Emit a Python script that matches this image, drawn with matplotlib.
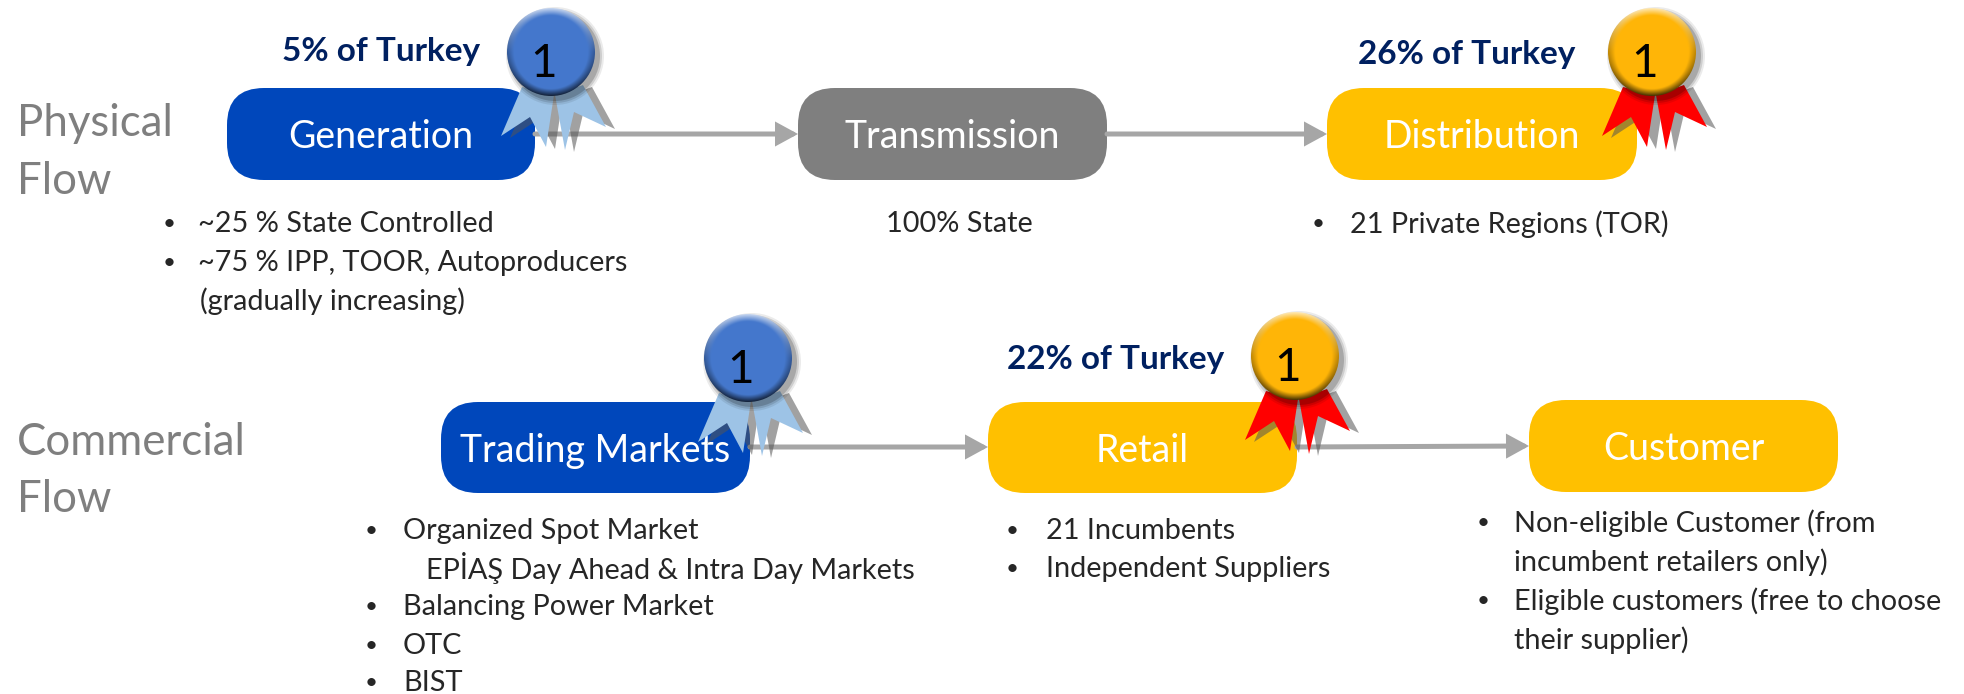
import numpy as np
import matplotlib
matplotlib.use("Agg")
import matplotlib.pyplot as plt
from matplotlib.patches import FancyBboxPatch, FancyArrowPatch, Polygon, Circle

plt.rcParams['font.family'] = ['Lato', 'DejaVu Sans']

# ---- content -------------------------------------------------------------
flow_titles = [["Physical", "Flow"], ["Commercial", "Flow"]]
box_labels = ["Generation", "Transmission", "Distribution", "Trading Markets", "Retail", "Customer"]
box_kinds = ["blue", "grey", "gold", "blue", "gold", "gold"]
share_labels = ["5% of Turkey", "26% of Turkey", "22% of Turkey"]
medal_text = "1"
generation_notes = ["~25 % State Controlled", "~75 % IPP, TOOR, Autoproducers", "(gradually increasing)"]
transmission_notes = ["100% State"]
distribution_notes = ["21 Private Regions (TOR)"]
trading_notes = ["Organized Spot Market", "EPİAŞ Day Ahead & Intra Day Markets",
                 "Balancing Power Market", "OTC", "BIST"]
retail_notes = ["21 Incumbents", "Independent Suppliers"]
customer_notes = ["Non-eligible Customer (from", "incumbent retailers only)",
                  "Eligible customers (free to choose", "their supplier)"]

# ---- layout (pixels of the 1964x694 canvas) ------------------------------
W, H = 1964, 694
COL = {"blue": "#0047BB", "grey": "#7F7F7F", "gold": "#FFC000"}
boxes = [(227, 88, 535, 180), (798, 88, 1107, 180), (1327, 88, 1637, 180),
         (441, 402, 750, 493), (988, 402, 1297, 493), (1529, 400, 1838, 492)]
arrows = [(535, 134, 798, 134), (1107, 134, 1327, 134),
          (750, 447, 988, 447), (1297, 447, 1529, 446)]
medals = [(551, 52, "blue"), (1652, 52, "gold"), (748, 358, "blue"), (1295, 356, "gold")]

fig = plt.figure(figsize=(W / 100, H / 100), dpi=100, facecolor="white")
ax = fig.add_axes([0, 0, 1, 1])
ax.set_xlim(0, W)
ax.set_ylim(H, 0)
ax.axis("off")

# ---- boxes ---------------------------------------------------------------
for (x0, y0, x1, y1), label, kind in zip(boxes, box_labels, box_kinds):
    r = 37
    ax.add_patch(FancyBboxPatch((x0 + r, y0 + r), x1 - x0 - 2 * r, y1 - y0 - 2 * r,
                                boxstyle=f"round,pad={r},rounding_size={r}",
                                fc=COL[kind], ec="none", zorder=2))
    ax.text((x0 + x1) / 2, (y0 + y1) / 2 + 3, label, color="white", fontsize=27,
            ha="center", va="center", zorder=3)

# ---- arrows --------------------------------------------------------------
for x0, y0, x1, y1 in arrows:
    ax.add_patch(FancyArrowPatch((x0, y0), (x1, y1), shrinkA=0, shrinkB=0, mutation_scale=1,
                                 arrowstyle="-|>,head_length=11,head_width=6",
                                 lw=3.6, color="#A6A6A6", joinstyle="miter", zorder=4))

# ---- medals --------------------------------------------------------------
ribbon_left = np.array([(-29, 35), (-50, 84), (-21, 65), (-5, 95), (3, 43)], float)
ribbon_right = np.array([(4, 43), (14, 98), (23, 60), (55, 75), (32, 33)], float)
MEDAL = {"blue": dict(base=(0.27, 0.47, 0.80), ribbon="#9DC3E6"),
         "gold": dict(base=(1.00, 0.71, 0.03), ribbon="#FF0000")}
R = 44


def draw_medal(cx, cy, kind):
    st = MEDAL[kind]
    for poly in (ribbon_left, ribbon_right):
        ax.add_patch(Polygon(poly + (cx + 9, cy + 2), fc="#555555", alpha=0.55, ec="none", zorder=5))
        ax.add_patch(Polygon(poly + (cx, cy), fc=st["ribbon"], ec="none", zorder=6))
    for grow, al in ((5, .08), (3, .12), (1, .18)):
        ax.add_patch(Circle((cx + 4, cy + 4), R + grow, fc="black", alpha=al, ec="none", zorder=6.5))
    # bevelled disc
    n = 4 * R
    g = np.linspace(-1, 1, n)
    xx, yy = np.meshgrid(g, g)
    rr = np.hypot(xx, yy)
    base = np.array(st["base"])
    band = np.clip((rr - 0.84) / 0.16, 0, 1)
    light = -yy / np.maximum(rr, 1e-6)
    shade = band * light
    img = np.ones((n, n, 4))
    for c in range(3):
        lit = base[c] + (1 - base[c]) * np.clip(shade, 0, 1) * 0.7
        img[..., c] = lit * (1 - np.clip(-shade, 0, 1) * 0.72) * (1 - 0.25 * band * (1 - np.abs(light)))
    im = ax.imshow(img, extent=(cx - R, cx + R, cy + R, cy - R), zorder=7, interpolation="bilinear")
    im.set_clip_path(Circle((cx, cy), R, transform=ax.transData))
    ax.text(cx - 7, cy + 12, medal_text, color="black", fontsize=33, ha="center", va="center", zorder=8)


for m in medals:
    draw_medal(*m)
ax.set_xlim(0, W)
ax.set_ylim(H, 0)

# ---- share labels --------------------------------------------------------
for (x, y), s in zip([(381, 51), (1467, 54), (1116, 359)], share_labels):
    ax.text(x, y, s, color="#002060", fontsize=24, fontweight="bold", ha="center", va="center", zorder=3)

# ---- flow titles ---------------------------------------------------------
for (y0, y1), lines in zip([(123, 181), (442, 500)], flow_titles):
    for y, s in zip((y0, y1), lines):
        ax.text(17, y, s, color="#7F7F7F", fontsize=31.5, ha="left", va="center")


# ---- notes ---------------------------------------------------------------
def note(lines, text_x, ys, bullets, bullet_x):
    for s, x, y, b in zip(lines, text_x, ys, bullets):
        ax.text(x, y, s, color="#262626", fontsize=20.8, ha="left", va="center")
        if b:
            ax.text(bullet_x, y, "•", color="#262626", fontsize=16, ha="center", va="center")


note(generation_notes, [198, 198, 200], [224, 263, 301], [1, 1, 0], 169)
note(transmission_notes, [886], [224], [0], 0)
note(distribution_notes, [1350], [224], [1], 1318)
note(trading_notes, [403, 426, 403, 403, 403], [531, 568, 607, 646, 683], [1, 0, 1, 1, 1], 371)
note(retail_notes, [1046, 1046], [531, 569], [1, 1], 1012)
note(customer_notes, [1514, 1514, 1514, 1514], [523, 562, 601, 640], [1, 0, 1, 0], 1483)

fig.savefig("out.png", dpi=100, facecolor="white")
